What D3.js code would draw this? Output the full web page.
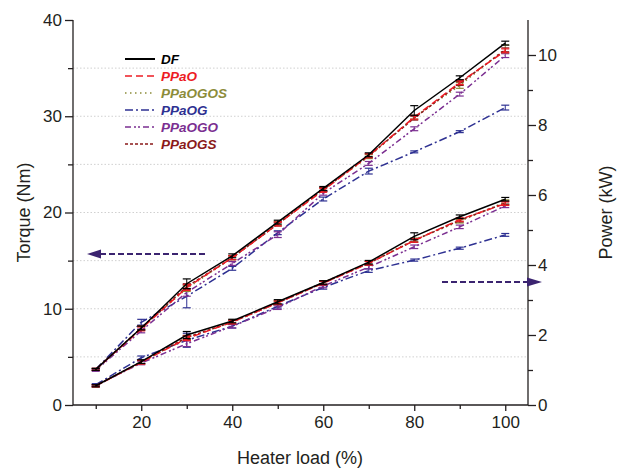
<!DOCTYPE html>
<html><head><meta charset="utf-8">
<script src="https://cdn.jsdelivr.net/npm/d3@7"></script>
<style>body{margin:0;background:#fff}svg{display:block}text{font-family:"Liberation Sans",Arial,sans-serif}</style>
</head><body>
<svg id="c" width="618" height="474"></svg>
<script>
const loads = [10,20,30,40,50,60,70,80,90,100];
const seriesNames = ["DF","PPaO","PPaOGOS","PPaOG","PPaOGO","PPaOGS"];
const torqueDF      = [3.7, 8.0, 12.6, 15.5, 19.0, 22.5, 26.0, 30.6, 34.0, 37.6];
const torquePPaO    = [3.7, 7.9, 12.2, 15.3, 18.8, 22.3, 25.9, 29.9, 33.5, 36.8];
const torquePPaOGOS = [3.7, 8.0, 12.1, 15.3, 18.9, 22.4, 25.8, 29.9, 33.2, 37.0];
const torquePPaOG   = [3.7, 8.6, 11.3, 14.2, 17.9, 21.4, 24.3, 26.3, 28.4, 30.9];
const torquePPaOGO  = [3.6, 7.7, 11.7, 14.7, 17.7, 22.0, 25.1, 28.7, 32.3, 36.3];
const torquePPaOGS  = [3.7, 8.0, 12.3, 15.3, 18.8, 22.4, 25.9, 29.8, 33.4, 36.9];
const powerDF      = [0.55, 1.24, 2.00, 2.40, 2.95, 3.50, 4.08, 4.82, 5.38, 5.88];
const powerPPaO    = [0.55, 1.22, 1.90, 2.37, 2.92, 3.48, 4.05, 4.70, 5.30, 5.75];
const powerPPaOGOS = [0.55, 1.23, 1.92, 2.38, 2.93, 3.50, 4.06, 4.72, 5.25, 5.80];
const powerPPaOG   = [0.58, 1.35, 1.85, 2.25, 2.82, 3.36, 3.84, 4.14, 4.48, 4.86];
const powerPPaOGO  = [0.55, 1.20, 1.75, 2.25, 2.78, 3.40, 3.94, 4.52, 5.09, 5.69];
const powerPPaOGS  = [0.55, 1.23, 1.93, 2.37, 2.92, 3.49, 4.05, 4.70, 5.28, 5.77];
const errTorqueDF      = [0.1,0.2,0.5,0.2,0.2,0.2,0.2,0.5,0.2,0.2];
const errTorquePPaO    = [0.1,0.2,0.3,0.2,0.2,0.2,0.2,0.2,0.2,0.2];
const errTorquePPaOGOS = [0.1,0.2,0.3,0.2,0.2,0.2,0.2,0.2,0.3,0.4];
const errTorquePPaOG   = [0.1,0.3,1.2,0.2,0.2,0.2,0.3,0.1,0.1,0.25];
const errTorquePPaOGO  = [0.1,0.2,0.4,0.2,0.3,0.2,0.2,0.2,0.2,0.2];
const errTorquePPaOGS  = [0.1,0.2,0.3,0.2,0.2,0.2,0.2,0.2,0.2,0.2];
const errPowerDF      = [0.03,0.05,0.1,0.05,0.06,0.05,0.05,0.1,0.05,0.05];
const errPowerPPaO    = [0.03,0.05,0.06,0.05,0.05,0.05,0.05,0.05,0.05,0.05];
const errPowerPPaOGOS = [0.03,0.05,0.06,0.05,0.05,0.05,0.05,0.05,0.05,0.06];
const errPowerPPaOG   = [0.03,0.05,0.2,0.05,0.05,0.05,0.05,0.03,0.03,0.04];
const errPowerPPaOGO  = [0.03,0.05,0.08,0.05,0.05,0.05,0.05,0.05,0.05,0.05];
const errPowerPPaOGS  = [0.03,0.05,0.06,0.05,0.05,0.05,0.05,0.05,0.05,0.05];
const xTicks = [20,40,60,80,100];
const torqueTicks = [0,10,20,30,40];
const powerTicks = [0,2,4,6,8,10];

const torque = [torqueDF,torquePPaO,torquePPaOGOS,torquePPaOG,torquePPaOGO,torquePPaOGS];
const power = [powerDF,powerPPaO,powerPPaOGOS,powerPPaOG,powerPPaOGO,powerPPaOGS];
const errT = [errTorqueDF,errTorquePPaO,errTorquePPaOGOS,errTorquePPaOG,errTorquePPaOGO,errTorquePPaOGS];
const errP = [errPowerDF,errPowerPPaO,errPowerPPaOGOS,errPowerPPaOG,errPowerPPaOGO,errPowerPPaOGS];
const colors = ["#000000","#ed1c24","#8c8c3a","#2e3192","#7b2f91","#8b1a1a"];
const dashes = [null,"7,4","1.5,3.5","8,3,2,3","6,3,2,2,2,3","3,2"];

const svg = d3.select("#c");
const x = d3.scaleLinear().domain([5,105]).range([73,528]);
const yT = d3.scaleLinear().domain([0,40]).range([405,20]);
const yP = d3.scaleLinear().domain([0,11]).range([405,20]);

// grid
svg.append("g").selectAll("line").data(d3.range(5,40,5)).join("line")
  .attr("x1",x(5)).attr("x2",x(105)).attr("y1",d=>yT(d)).attr("y2",d=>yT(d))
  .attr("stroke","#c4c4c4").attr("stroke-width",0.8).attr("stroke-dasharray","1.5,2");

// axes
const fs = "17px";
const gx = svg.append("g").attr("transform",`translate(0,${yT(0)})`)
  .call(d3.axisBottom(x).tickValues(xTicks).tickSize(6).tickPadding(5).tickFormat(d3.format("d")));
svg.append("g").attr("transform",`translate(0,${yT(0)})`)
  .call(d3.axisBottom(x).tickValues([10,30,50,70,90]).tickSize(4).tickFormat(""))
  .select(".domain").remove();
const gl = svg.append("g").attr("transform",`translate(${x(5)},0)`)
  .call(d3.axisLeft(yT).tickValues(torqueTicks).tickSize(8).tickPadding(3));
svg.append("g").attr("transform",`translate(${x(5)},0)`)
  .call(d3.axisLeft(yT).tickValues([5,15,25,35]).tickSize(5).tickFormat(""))
  .select(".domain").remove();
const gr = svg.append("g").attr("transform",`translate(${x(105)},0)`)
  .call(d3.axisRight(yP).tickValues(powerTicks).tickSize(8).tickPadding(2));
svg.append("g").attr("transform",`translate(${x(105)},0)`)
  .call(d3.axisRight(yP).tickValues([1,3,5,7,9]).tickSize(5).tickFormat(""))
  .select(".domain").remove();
svg.selectAll(".tick line, .domain").attr("stroke","#231f20").attr("stroke-width",1.3);
svg.selectAll(".tick text").attr("font-size",fs).attr("fill","#231f20").attr("font-family","'Liberation Sans',Arial,sans-serif");
gx.select(".domain").attr("d",`M${x(5)},0H${x(105)}`);
gl.select(".domain").attr("d",`M0,${yT(0)}V${yT(40)}`);
gr.select(".domain").attr("d",`M0,${yP(0)}V${yP(11)}`);

// titles
svg.append("text").attr("x",300).attr("y",464).attr("text-anchor","middle").attr("font-size","18px").attr("fill","#231f20").text("Heater load (%)");
svg.append("text").attr("transform",`translate(30,${yT(20)}) rotate(-90)`).attr("text-anchor","middle").attr("font-size","18px").attr("fill","#231f20").text("Torque (Nm)");
svg.append("text").attr("transform",`translate(612,${yP(5.5)}) rotate(-90)`).attr("text-anchor","middle").attr("font-size","18px").attr("fill","#231f20").text("Power (kW)");

// series
const plotG = svg.append("g");
function drawSet(vals, errs, yS){
  const order = [3,4,2,5,1,0];
  order.forEach(i=>{
    const pts = loads.map((l,k)=>({x:l,y:vals[i][k],e:errs[i][k]}));
    const g = plotG.append("g");
    g.append("path").datum(pts)
      .attr("d",d3.line().x(d=>x(d.x)).y(d=>yS(d.y)))
      .attr("fill","none").attr("stroke",colors[i]).attr("stroke-width",1.5)
      .attr("stroke-dasharray",dashes[i]);
    const eb = g.selectAll("g.eb").data(pts).join("g");
    eb.append("line").attr("x1",d=>x(d.x)).attr("x2",d=>x(d.x))
      .attr("y1",d=>yS(d.y-d.e)).attr("y2",d=>yS(d.y+d.e))
      .attr("stroke",colors[i]).attr("stroke-width",1);
    [-1,1].forEach(s=>{
      eb.append("line").attr("x1",d=>x(d.x)-4).attr("x2",d=>x(d.x)+4)
        .attr("y1",d=>yS(d.y+s*d.e)).attr("y2",d=>yS(d.y+s*d.e))
        .attr("stroke",colors[i]).attr("stroke-width",1.2);
    });
  });
}
drawSet(torque, errT, yT);
drawSet(power, errP, yP);

// arrows
const arrowC = "#3b2470";
svg.append("line").attr("x1",205).attr("y1",254).attr("x2",100).attr("y2",254)
  .attr("stroke",arrowC).attr("stroke-width",2).attr("stroke-dasharray","6,3");
svg.append("path").attr("d","M87,254 L101,249.5 L101,258.5 Z").attr("fill",arrowC);
svg.append("line").attr("x1",442).attr("y1",282).attr("x2",528).attr("y2",282)
  .attr("stroke",arrowC).attr("stroke-width",2).attr("stroke-dasharray","6,3");
svg.append("path").attr("d","M542,282 L527,277.5 L527,286.5 Z").attr("fill",arrowC);

// legend
const leg = svg.append("g");
seriesNames.forEach((n,i)=>{
  const yy = 59 + i*17;
  leg.append("line").attr("x1",125).attr("x2",155).attr("y1",yy).attr("y2",yy)
    .attr("stroke",colors[i]).attr("stroke-width",i===0?2:1.6).attr("stroke-dasharray",dashes[i]);
  leg.append("text").attr("x",161).attr("y",yy+5).attr("font-size","13.5px")
    .attr("font-weight","bold").attr("font-style","italic").attr("fill",colors[i]).text(n);
});
</script>
</body></html>
